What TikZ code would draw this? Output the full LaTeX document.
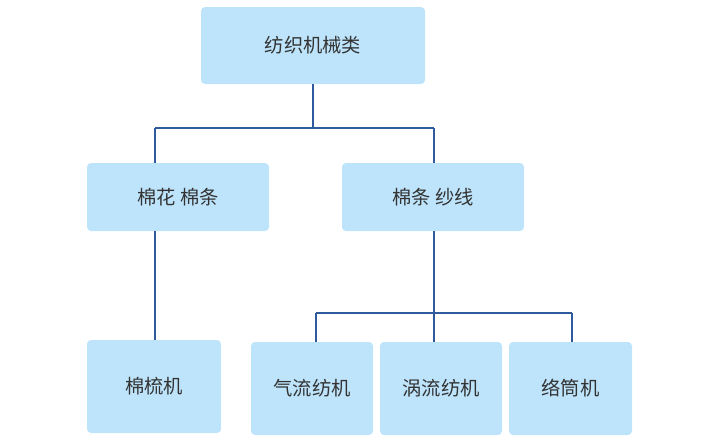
\documentclass[tikz,border=0pt]{standalone}
\usepackage{fontspec}
\newfontfamily\cjk{Noto Sans CJK SC}
\usepackage{xcolor}
\definecolor{boxblue}{HTML}{BEE4FB}
\definecolor{linkblue}{HTML}{2F5A9E}
\definecolor{txtgray}{HTML}{333333}
\tikzset{
	box/.style={
			fill=boxblue, draw=none, rounded corners=4pt,
			font=\cjk\fontsize{19.3}{22}\selectfont, text=txtgray
		},
	link/.style={draw=linkblue, line width=1.4pt}
}

\begin{document}
\begin{tikzpicture}[x=1pt,y=-1pt]
			\useasboundingbox (0,0) rectangle (709,440);
			\node[box, minimum width=224pt, minimum height=77pt] (top) at (313,45.5) {纺织机械类};
			\node[box, minimum width=182pt, minimum height=68pt] (mianhua) at (178,197) {棉花 棉条};
			\node[box, minimum width=182pt, minimum height=68pt] (shaxian) at (433,197) {棉条 纱线};
			\node[box, minimum width=134pt, minimum height=93pt] (shuji) at (154,386.5) {棉梳机};
			\node[box, minimum width=122pt, minimum height=93pt] (qiliu) at (312,388.5) {气流纺机};
			\node[box, minimum width=122pt, minimum height=93pt] (woliu) at (441,388.5) {涡流纺机};
			\node[box, minimum width=123pt, minimum height=93pt] (luotong) at (570.5,388.5) {络筒机};
			% upper bus
			\coordinate (busL) at (155,128);
			\coordinate (busR) at (434,128);
			\draw[link] (top.south) -- (top.south |- busL);
			\draw[link] (busL) -- (busR);
			\draw[link] (busL) -- (busL |- mianhua.north);
			\draw[link] (busR) -- (busR |- shaxian.north);
			\draw[link] (busL |- mianhua.south) -- (busL |- shuji.north);
			% lower bus
			\coordinate (busA) at (316,313);
			\coordinate (busB) at (572,313);
			\draw[link] (busR |- shaxian.south) -- (busR |- woliu.north);
			\draw[link] (busA) -- (busB);
			\draw[link] (busA) -- (busA |- qiliu.north);
			\draw[link] (busB) -- (busB |- luotong.north);
		\end{tikzpicture}
\end{document}
